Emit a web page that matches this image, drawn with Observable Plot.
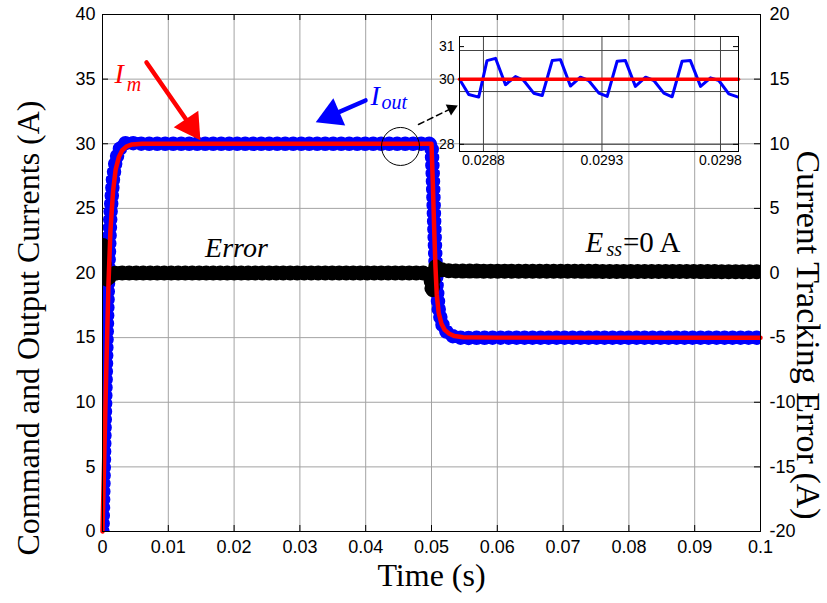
<!DOCTYPE html>
<html><head><meta charset="utf-8">
<script src="https://cdn.jsdelivr.net/npm/d3@7"></script>
<script src="https://cdn.jsdelivr.net/npm/@observablehq/plot@0.6"></script>
<style>
body{margin:0;background:#fff;}
#wrap{position:relative;width:827px;height:603px;overflow:hidden;background:#fff;}
#inset{position:absolute;left:424px;top:28px;}
</style></head><body><div id="wrap"><div id="main"></div><div id="inset"></div></div>
<script>
// ---- main traces (time in s, currents in A) ----
const timeS = [0, 0.0003, 0.0006, 0.0009, 0.0012, 0.0016, 0.002, 0.0025, 0.003, 0.0037, 0.0045, 0.006, 0.05, 0.0502, 0.0504, 0.0506, 0.0508, 0.0511, 0.0515, 0.052, 0.0527, 0.0535, 0.0548, 0.06, 0.1];
const commandIm = [0, 6.5, 13, 19, 23.2, 26.3, 28, 29, 29.5, 29.8, 29.95, 30, 30, 27, 23.5, 20.5, 18.3, 16.9, 16.1, 15.6, 15.3, 15.12, 15.03, 15, 15];
const outputIout = [0, 7.5, 14.5, 20.5, 24.5, 27.3, 28.7, 29.5, 29.9, 30.1, 30.05, 30, 30, 27.5, 24, 21, 18.8, 17.2, 16.2, 15.6, 15.25, 15.05, 14.97, 15, 15];
const errorTime = [0, 0.00008, 0.0003, 0.0007, 0.0012, 0.002, 0.0495, 0.0499, 0.0501, 0.0503, 0.0506, 0.051, 0.053, 0.1];
const errorVals = [0.5, 2.2, 0.5, -0.6, -0.2, 0, 0, -0.4, -1.4, -0.3, 0.5, 0.3, 0.15, 0.1];

// ---- axes ----
const xTicks = [0, 0.01, 0.02, 0.03, 0.04, 0.05, 0.06, 0.07, 0.08, 0.09, 0.1];
const yTicks = [0, 5, 10, 15, 20, 25, 30, 35, 40];
const errTicks = [-20, -15, -10, -5, 0, 5, 10, 15, 20];
const leftDomain = [0, 40];
const rightDomain = [-20, 20];
const xTitle = "Time (s)";
const yLeftTitle = "Command and Output Currents (A)";
const yRightTitle = "Current Tracking Error (A)";

// ---- inset (zoom of steady state) ----
const insetTime = [0.028699, 0.028738, 0.028780, 0.028815, 0.028851, 0.028893, 0.028935, 0.028970, 0.029012, 0.029048, 0.029090, 0.029125, 0.029167, 0.029209, 0.029244, 0.029287, 0.029322, 0.029364, 0.029399, 0.029441, 0.029484, 0.029519, 0.029561, 0.029596, 0.029638, 0.029673, 0.029716, 0.029758, 0.029793, 0.029835, 0.029875];
const insetIout = [30.00, 29.53, 29.45, 30.57, 30.64, 29.83, 30.08, 29.96, 29.57, 29.50, 30.57, 30.60, 29.79, 30.06, 29.96, 29.57, 29.47, 30.55, 30.57, 29.78, 30.06, 29.96, 29.57, 29.46, 30.55, 30.57, 29.78, 30.04, 29.96, 29.55, 29.45];
const insetRefTime = [0.028699, 0.029876];
const insetRefIm = [30, 30];
const insetXTicks = [0.0288, 0.0293, 0.0298];
const insetYTicks = [28, 30, 31];
const insetGridY = [28, 29.62, 30, 30.88];
const insetDomainX = [0.028699, 0.029876];
const insetDomainY = [27.78, 31.31];

// ---- annotations (x: time, y: left-axis value) ----
const redArrowLine = [{t: 0.00669, v: 36.29}, {t: 0.01342, v: 31.36}];
const redArrowHead = [{t: 0.01342, v: 31.36}];
const blueArrowLine = [{t: 0.03997, v: 33.35}, {t: 0.03479, v: 32.20}];
const blueArrowHead = [{t: 0.03479, v: 32.20}];
const zoomArrowLine = [{t: 0.04802, v: 31.49}, {t: 0.05304, v: 32.73}];
const zoomArrowHead = [{t: 0.05304, v: 32.73}];
const zoomCircle = [{t: 0.04529, v: 29.79}];
const labelImMain = [{t: 0.00182, v: 35.36, s: "I"}];
const labelImSub = [{t: 0.00370, v: 34.55, s: "m"}];
const labelIoMain = [{t: 0.04073, v: 33.73, s: "I"}];
const labelIoSub = [{t: 0.04240, v: 33.15, s: "out"}];
const labelError = [{t: 0.02036, v: 21.97, s: "Error"}];
const labelEssMain = [{t: 0.0734, v: 22.36, s: "E"}];
const labelEssSub = [{t: 0.0766, v: 21.80, s: "ss"}];
const labelEssRest = [{t: 0.0791, v: 22.36, s: "=0 A"}];

const serif = "'Liberation Serif', 'Times New Roman', serif";
const sans = "'Liberation Sans', Arial, sans-serif";
const W = 827, H = 603, mL = 102, mR = 67, mT = 14, mB = 72;
const pw = W - mL - mR, ph = H - mT - mB;
const errOffset = leftDomain[0] - rightDomain[0];

const iData = timeS.map((t, i) => ({t, im: commandIm[i], io: outputIout[i]}));
const eData = errorTime.map((t, i) => ({t, e: errorVals[i]}));
const gridColor = "#a3a3a3";

const main = Plot.plot({
  width: W, height: H, marginLeft: mL, marginRight: mR, marginTop: mT, marginBottom: mB,
  style: {fontFamily: sans, fontSize: "18px", background: "white", color: "black"},
  x: {domain: [0, 0.1]},
  y: {domain: leftDomain},
  marks: [
    Plot.gridX({ticks: xTicks, stroke: gridColor, strokeOpacity: 1}),
    Plot.gridY({ticks: yTicks, stroke: gridColor, strokeOpacity: 1}),
    Plot.tickX(xTicks, {x: d => d, stroke: "black", insetTop: ph - 6}),
    Plot.tickX(xTicks, {x: d => d, stroke: "black", insetBottom: ph - 6}),
    Plot.tickY(yTicks, {y: d => d, stroke: "black", insetRight: pw - 6}),
    Plot.tickY(errTicks.map(v => v + errOffset), {y: d => d, stroke: "black", insetLeft: pw - 6}),
    Plot.axisX({ticks: xTicks, tickSize: 0, tickPadding: 9, label: null, tickFormat: d => String(+d.toFixed(2))}),
    Plot.axisY({anchor: "left", ticks: yTicks, tickSize: 0, tickPadding: 7, label: null, tickFormat: d => String(d)}),
    Plot.axisY({anchor: "right", ticks: errTicks.map(v => v + errOffset), tickSize: 0, tickPadding: 9, label: null, tickFormat: d => String(d - errOffset)}),
    // output current: thick band with rippled edges
    Plot.line(iData, {x: "t", y: "io", stroke: "#0000ff", strokeWidth: 11, strokeLinejoin: "round", clip: true}),
    Plot.line(iData, {x: "t", y: "io", stroke: "#0000ff", strokeWidth: 14.5, strokeDasharray: "0,8", strokeLinecap: "round", clip: true}),
    // tracking error (right axis)
    Plot.line(eData, {x: "t", y: d => d.e + errOffset, stroke: "black", strokeWidth: 12, strokeLinejoin: "round", clip: true}),
    Plot.line(eData, {x: "t", y: d => d.e + errOffset, stroke: "black", strokeWidth: 15, strokeDasharray: "0,7", strokeLinecap: "round", clip: true}),
    // command current
    Plot.line(iData, {x: "t", y: "im", stroke: "#ff0000", strokeWidth: 4.5, strokeLinejoin: "round"}),
    Plot.frame({stroke: "black"}),
    // annotations
    Plot.line(redArrowLine, {x: "t", y: "v", stroke: "#ff0000", strokeWidth: 4.5}),
    Plot.dot(redArrowHead, {x: "t", y: "v", symbol: "triangle", r: 11, fill: "#ff0000", rotate: 146}),
    Plot.line(blueArrowLine, {x: "t", y: "v", stroke: "#0000ff", strokeWidth: 4.5}),
    Plot.dot(blueArrowHead, {x: "t", y: "v", symbol: "triangle", r: 11, fill: "#0000ff", rotate: -113.5}),
    Plot.line(zoomArrowLine, {x: "t", y: "v", stroke: "black", strokeWidth: 1.5, strokeDasharray: "6,4"}),
    Plot.dot(zoomArrowHead, {x: "t", y: "v", symbol: "triangle", r: 4.5, fill: "black", rotate: 64}),
    Plot.dot(zoomCircle, {x: "t", y: "v", r: 19, stroke: "black", fill: "none", strokeWidth: 1}),
    Plot.text(labelImMain, {x: "t", y: "v", text: "s", textAnchor: "start", fontFamily: serif, fontStyle: "italic", fontSize: 28, fill: "#ff0000"}),
    Plot.text(labelImSub, {x: "t", y: "v", text: "s", textAnchor: "start", fontFamily: serif, fontStyle: "italic", fontSize: 20, fill: "#ff0000"}),
    Plot.text(labelIoMain, {x: "t", y: "v", text: "s", textAnchor: "start", fontFamily: serif, fontStyle: "italic", fontSize: 28, fill: "#0000ff"}),
    Plot.text(labelIoSub, {x: "t", y: "v", text: "s", textAnchor: "start", fontFamily: serif, fontStyle: "italic", fontSize: 20, fill: "#0000ff"}),
    Plot.text(labelError, {x: "t", y: "v", text: "s", fontFamily: serif, fontStyle: "italic", fontSize: 28, fill: "black"}),
    Plot.text(labelEssMain, {x: "t", y: "v", text: "s", textAnchor: "start", fontFamily: serif, fontStyle: "italic", fontSize: 29, fill: "black"}),
    Plot.text(labelEssSub, {x: "t", y: "v", text: "s", textAnchor: "start", fontFamily: serif, fontStyle: "italic", fontSize: 20, fill: "black"}),
    Plot.text(labelEssRest, {x: "t", y: "v", text: "s", textAnchor: "start", fontFamily: serif, fontSize: 29, fill: "black"}),
    // axis titles
    Plot.text([xTitle], {frameAnchor: "bottom", textAnchor: "middle", dy: 54, text: d => d, fontFamily: serif, fontSize: 32, fill: "black"}),
    Plot.text([yLeftTitle], {frameAnchor: "left", textAnchor: "middle", dx: -74, dy: 55, rotate: -90, text: d => d, fontFamily: serif, fontSize: 32, fill: "black"}),
    Plot.text([yRightTitle], {frameAnchor: "right", textAnchor: "middle", dx: 47, dy: 62, rotate: 90, text: d => d, fontFamily: serif, fontSize: 34, fill: "black"})
  ]
});
document.getElementById("main").appendChild(main);

const iW = 320, iH = 147, iL = 35, iR = 6, iT = 8, iB = 24;
const insetData = insetTime.map((t, i) => ({t, v: insetIout[i]}));
const insetRef = insetRefTime.map((t, i) => ({t, v: insetRefIm[i]}));
const inset = Plot.plot({
  width: iW, height: iH, marginLeft: iL, marginRight: iR, marginTop: iT, marginBottom: iB,
  style: {fontFamily: sans, fontSize: "14px", background: "transparent", color: "black"},
  x: {domain: insetDomainX},
  y: {domain: insetDomainY},
  marks: [
    Plot.gridX({ticks: insetXTicks, stroke: "#444", strokeOpacity: 1}),
    Plot.gridY({ticks: insetGridY, stroke: "#444", strokeOpacity: 1}),
    Plot.tickY(insetYTicks, {y: d => d, stroke: "black", insetRight: iW - iL - iR - 5}),
    Plot.tickY(insetYTicks, {y: d => d, stroke: "black", insetLeft: iW - iL - iR - 5}),
    Plot.axisX({ticks: insetXTicks, tickSize: 0, tickPadding: 4, label: null, tickFormat: d => d.toFixed(4)}),
    Plot.axisY({ticks: insetYTicks, tickSize: 0, tickPadding: 5, label: null, tickFormat: d => String(d)}),
    Plot.line(insetData, {x: "t", y: "v", stroke: "#0000ff", strokeWidth: 3, strokeLinejoin: "round", clip: true}),
    Plot.line(insetRef, {x: "t", y: "v", stroke: "#ff0000", strokeWidth: 3.5}),
    Plot.frame({stroke: "black"})
  ]
});
document.getElementById("inset").appendChild(inset);
</script></body></html>
